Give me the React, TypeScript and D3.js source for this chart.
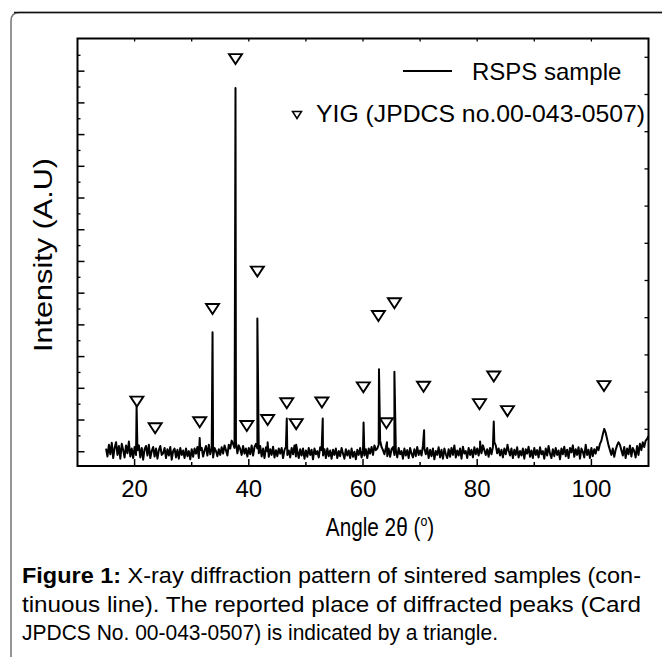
import React from "react";
import * as d3 from "d3";

const W = 662;
const H = 657;

// Measured trace: sampled every 0.25 deg from 15 to 110 (intensity, arbitrary units)
const traceStart = 15;
const traceStep = 0.25;
const baseline: number[] = [
  // 15.00 - 19.75
  0.1, -0.15, 0.22, -0.08, 0.28, -0.2, 0.12, 0.3, -0.1, 0.18, -0.22, 0.25, 0.05, -0.18, 0.2, -0.05, 0.32, -0.15, 0.1, -0.2,
  // 20.00 - 24.75
  0.15, -0.1, 0.05, 0.2, -0.18, 0.12, -0.25, 0.08, 0.18, -0.12, 0.22, -0.2, 0.02, 0.15, -0.15, 0.1, -0.22, 0.05, 0.18, -0.1,
  // 25.00 - 29.75
  -0.05, 0.12, -0.2, 0.08, -0.12, 0.15, -0.25, 0.02, 0.1, -0.18, 0.06, -0.22, 0.12, -0.1, 0.04, -0.2, 0.1, -0.14, 0.02, -0.24,
  // 30.00 - 34.75
  0.08, -0.16, 0.1, -0.06, 0.15, -0.2, 0.05, 0.12, -0.15, 0.04, 0.18, -0.12, 0.22, -0.08, 0.1, -0.18, 0.12, 0.02, -0.14, 0.08,
  // 35.00 - 39.75
  -0.1, 0.14, -0.06, 0.2, 0.05, -0.12, 0.22, 0.1, 0.35, 0.25, 0.12, 0.3, -0.05, 0.2, 0.08, -0.1, 0.18, -0.06, 0.1, -0.15,
  // 40.00 - 44.75
  0.12, -0.08, 0.2, -0.12, 0.15, 0.25, 0.1, -0.05, 0.18, -0.15, 0.1, -0.2, 0.14, 0.02, -0.16, 0.08, -0.1, 0.16, -0.18, 0.05,
  // 45.00 - 49.75
  -0.14, 0.1, -0.06, 0.12, -0.2, 0.06, 0.15, -0.1, 0.04, -0.18, 0.12, -0.08, 0.2, -0.15, 0.02, -0.2, 0.08, -0.12, 0.1, -0.22,
  // 50.00 - 54.75
  0.04, -0.16, 0.12, -0.1, 0.06, -0.24, 0.1, -0.08, 0.02, -0.18, 0.14, 0.05, -0.12, 0.08, -0.2, 0.1, -0.14, 0.04, -0.22, 0.06,
  // 55.00 - 59.75
  -0.1, 0.1, -0.2, 0.02, -0.14, 0.12, -0.06, -0.22, 0.08, -0.12, 0.04, -0.2, 0.1, -0.16, 0.0, -0.24, 0.06, -0.1, 0.12, -0.18,
  // 60.00 - 64.75
  0.05, -0.12, 0.08, -0.2, 0.1, -0.06, 0.15, -0.1, 0.2, 0.05, 0.1, 0.22, 0.35, 0.15, 0.05, -0.08, 0.12, -0.14, 0.1, -0.16,
  // 65.00 - 69.75
  0.08, 0.15, -0.1, 0.06, -0.18, 0.12, -0.08, 0.02, -0.22, 0.1, -0.12, 0.05, -0.2, 0.12, -0.06, -0.18, 0.08, -0.14, 0.15, -0.1,
  // 70.00 - 74.75
  0.04, -0.12, 0.2, 0.1, -0.08, 0.12, -0.2, 0.06, -0.14, 0.1, -0.24, 0.02, -0.1, 0.14, -0.18, 0.06, -0.22, 0.1, -0.08, -0.2,
  // 75.00 - 79.75
  0.08, -0.16, 0.12, -0.1, 0.2, -0.18, 0.04, -0.12, 0.1, -0.22, 0.16, -0.06, 0.02, -0.2, 0.12, -0.1, 0.06, -0.18, 0.14, -0.08,
  // 80.00 - 84.75
  0.1, -0.12, 0.15, -0.05, 0.2, 0.05, -0.1, 0.08, -0.16, 0.12, -0.08, 0.15, 0.3, 0.2, -0.05, 0.1, -0.12, 0.06, -0.18, 0.1,
  // 85.00 - 89.75
  -0.08, 0.15, 0.05, -0.12, 0.1, -0.2, 0.06, -0.1, 0.14, -0.18, 0.02, -0.12, 0.1, -0.22, 0.08, -0.06, 0.16, -0.16, 0.04, -0.2,
  // 90.00 - 94.75
  0.12, -0.1, 0.05, -0.18, 0.14, -0.08, 0.02, -0.22, 0.1, -0.12, 0.18, -0.06, -0.2, 0.08, -0.14, 0.12, -0.1, 0.04, -0.24, 0.1,
  // 95.00 - 99.75
  -0.08, 0.16, -0.14, 0.06, -0.2, 0.12, -0.02, 0.2, -0.16, 0.08, -0.1, 0.14, -0.22, 0.1, 0.0, -0.18, 0.22, -0.1, 0.06, -0.2,
  // 100.00 - 104.75
  0.12, -0.14, 0.08, -0.06, 0.15, 0.05, 0.25, 0.35, 0.55, 0.72, 0.6, 0.4, 0.2, 0.05, -0.1, 0.1, -0.16, 0.06, 0.2, 0.3,
  // 105.00 - 109.75
  0.22, 0.05, -0.12, 0.15, -0.2, 0.1, -0.08, 0.2, -0.15, 0.12, 0.02, -0.18, 0.18, -0.1, 0.25, 0.05, 0.3, 0.15, 0.35, 0.4,
  // 110.00
  0.5,
];

// Sharp diffraction peaks of the sample: 2theta and intensity
const peakAngles = [20.35, 31.4, 33.65, 37.67, 41.5, 43.3, 46.65, 48.3, 52.95, 60.1, 62.8, 64.2, 65.5, 70.7, 80.5, 82.9, 85.3];
const peakHeights = [1.45, 0.43, 3.77, 11.47, 4.2, 0.3, 1.05, 0.22, 1.05, 0.92, 2.6, 0.3, 2.52, 0.68, 0.32, 0.95, 0.22];

// Reported YIG reflections (triangles): 2theta and marker level
const markerAngles = [20.4, 23.6, 31.4, 33.65, 37.67, 39.65, 41.5, 43.3, 46.65, 48.3, 52.8, 60.06, 62.7, 64.1, 65.5, 70.6, 80.4, 82.9, 85.3, 102.2];
const markerLevels = [1.58, 0.74, 0.93, 4.5, 12.38, 0.81, 5.68, 1.0, 1.53, 0.87, 1.55, 2.03, 4.28, 0.9, 4.68, 2.05, 1.5, 2.37, 1.28, 2.07];

const xTickLabels = [20, 40, 60, 80, 100];
const xMinorTicks = [30, 50, 70, 90];
const xTopTicks = [20, 30, 40, 50, 60, 70, 80, 90, 100];
const yMajorTicks = [0, 1, 2, 3, 4, 5, 6, 7, 8, 9, 10, 11, 12];
const yMinorTicks = [0.5, 1.5, 2.5, 3.5, 4.5, 5.5, 6.5, 7.5, 8.5, 9.5, 10.5, 11.5, 12.5];
const yRightTicks = [0, 1, 2, 3, 4, 5, 6, 7, 8, 9, 10];

const legendLabels = ["RSPS sample", "YIG (JPDCS no.00-043-0507)"];
const captionBold = "Figure 1:";
const captionLines = [
  " X-ray diffraction pattern of sintered samples (con-",
  "tinuous line). The reported place of diffracted peaks (Card",
  "JPDCS No. 00-043-0507) is indicated by a triangle.",
];

const FONT = "'Liberation Sans', Arial, sans-serif";

export default function App() {
  const left = 77.5, right = 648.5, top = 38.5, bottom = 466;
  const x = d3.scaleLinear().domain([10, 110]).range([left, right]);
  const y = d3.scaleLinear().domain([-0.45, 13.03]).range([bottom, top]);
  const yR = d3.scaleLinear().domain([0, 10]).range([429.3, 57.3]);

  const pts: [number, number][] = baseline.map((v, i) => [traceStart + i * traceStep, v]);
  peakAngles.forEach((a, i) => pts.push([a, peakHeights[i]]));
  pts.sort((p, q) => p[0] - q[0]);

  const line = d3
    .line<[number, number]>()
    .x((d) => x(d[0]))
    .y((d) => y(d[1]));

  const tri = (cx: number, cy: number, w: number, h: number) =>
    `M${cx - w / 2},${cy - h / 2}L${cx + w / 2},${cy - h / 2}L${cx},${cy + h / 2}Z`;

  return (
    <svg
      width={W}
      height={H}
      style={{ position: "absolute", left: 0, top: 0, background: "#fff" }}
      fontFamily={FONT}
    >
      <rect x={0} y={0} width={W} height={H} fill="#fff" />
      {/* figure frame */}
      <path d={`M11,${H} L11,21 Q11,12.5 19.5,12.5 L${W},12.5`} fill="none" stroke="#7a7a7a" strokeWidth={1.6} />
      <path d={`M14,12.5 L${W},12.5`} fill="none" stroke="#111" strokeWidth={1.3} />

      {/* trace */}
      <path d={line(pts) || ""} fill="none" stroke="#000" strokeWidth={2} strokeLinejoin="round" />

      {/* markers */}
      {markerAngles.map((a, i) => (
        <path key={i} d={tri(x(a), y(markerLevels[i]), 13, 10)} fill="#fff" stroke="#000" strokeWidth={1.9} />
      ))}

      {/* axes frame */}
      <rect x={left} y={top} width={right - left} height={bottom - top} fill="none" stroke="#000" strokeWidth={2} />
      {xTickLabels.map((t) => (
        <line key={"bx" + t} x1={x(t)} x2={x(t)} y1={bottom} y2={bottom - 7} stroke="#000" strokeWidth={1.5} />
      ))}
      {xMinorTicks.map((t) => (
        <line key={"bm" + t} x1={x(t)} x2={x(t)} y1={bottom} y2={bottom - 4} stroke="#000" strokeWidth={1.5} />
      ))}
      {xTopTicks.map((t) => (
        <line key={"tx" + t} x1={x(t)} x2={x(t)} y1={top} y2={top + 3} stroke="#000" strokeWidth={1.3} />
      ))}
      {yMajorTicks.map((t) => (
        <line key={"ly" + t} x1={left} x2={left + 7} y1={y(t)} y2={y(t)} stroke="#000" strokeWidth={1.5} />
      ))}
      {yMinorTicks.map((t) => (
        <line key={"lm" + t} x1={left} x2={left + 3} y1={y(t)} y2={y(t)} stroke="#000" strokeWidth={1.3} />
      ))}
      {yRightTicks.map((t) => (
        <line key={"ry" + t} x1={right} x2={right - 4} y1={yR(t)} y2={yR(t)} stroke="#000" strokeWidth={1.3} />
      ))}
      {xTickLabels.map((t) => (
        <text key={"xl" + t} x={x(t)} y={497} fontSize={24} textAnchor="middle" fill="#000">
          {t}
        </text>
      ))}

      {/* axis titles */}
      <g transform="translate(380,536) scale(0.83,1)">
        <text x={0} y={0} fontSize={25} textAnchor="middle" fill="#000">
          Angle 2θ (<tspan dy={-10} fontSize={15}>o</tspan>
          <tspan dy={10}>)</tspan>
        </text>
      </g>
      <text
        transform={`translate(52,255) rotate(-90)`}
        fontSize={26}
        textAnchor="middle"
        fill="#000"
        textLength={194}
        lengthAdjust="spacingAndGlyphs"
      >
        Intensity (A.U)
      </text>

      {/* legend */}
      <line x1={403} x2={452} y1={71} y2={71} stroke="#000" strokeWidth={2} />
      <text x={472} y={79.5} fontSize={24} fill="#000">{legendLabels[0]}</text>
      <path d={tri(297, 115, 9, 7)} fill="#fff" stroke="#000" strokeWidth={1.5} />
      <text x={316} y={122} fontSize={24} fill="#000" textLength={329} lengthAdjust="spacingAndGlyphs">
        {legendLabels[1]}
      </text>

      {/* caption */}
      <text x={22} y={583} fontSize={22} fill="#000" textLength={619} lengthAdjust="spacingAndGlyphs">
        <tspan fontWeight="bold">{captionBold}</tspan>
        {captionLines[0]}
      </text>
      <text x={22} y={612} fontSize={22} fill="#000" textLength={619} lengthAdjust="spacingAndGlyphs">
        {captionLines[1]}
      </text>
      <text x={22} y={640} fontSize={22} fill="#000" textLength={476} lengthAdjust="spacingAndGlyphs">
        {captionLines[2]}
      </text>
    </svg>
  );
}
